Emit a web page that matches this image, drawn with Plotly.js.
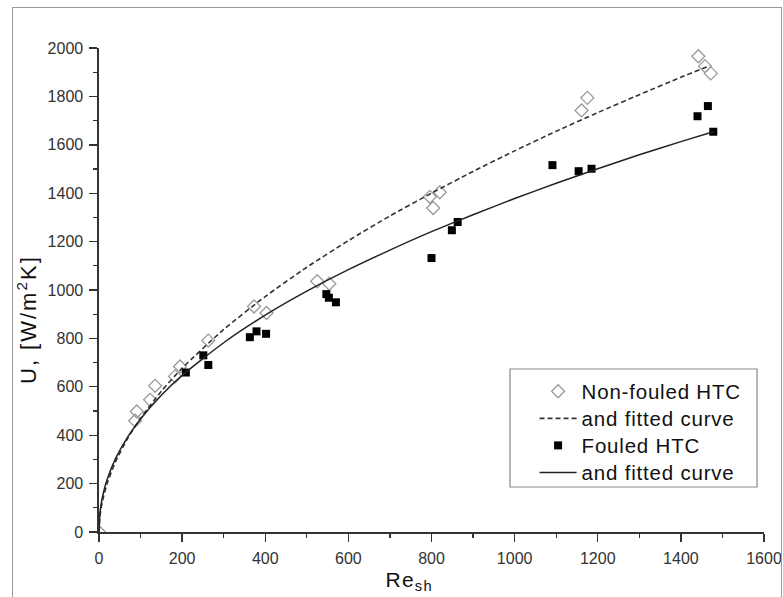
<!DOCTYPE html>
<html>
<head>
<meta charset="utf-8">
<script src="https://cdn.plot.ly/plotly-3.0.1.min.js"></script>
<style>
  html, body { margin: 0; padding: 0; background: #fff; }
  #wrap { position: relative; width: 783px; height: 597px; overflow: hidden; }
  #chart { position: absolute; left: 0; top: 0; width: 783px; height: 597px; }
  #frame { position: absolute; left: 12px; top: 7px; width: 768px; height: 620px;
           border: 1px solid #9a9a9a; pointer-events: none; }
  #chart .legend .scrollbox, #chart .legend { clip-path: none !important; }
  #chart .legendtext { font-size: 20.5px !important; letter-spacing: 0.8px; }
  #chart .annotation[data-index="0"] text { letter-spacing: 1.2px; }
  #chart .annotation[data-index="1"] text { letter-spacing: 2px; }
</style>
</head>
<body>
<div id="wrap">
  <div id="chart"></div>
  <div id="frame"></div>
</div>
<script>
// Non-fouled HTC measurements (open diamonds)
const nonFouledRe = [0, 87, 91, 123, 135, 183, 195, 263, 373, 403, 525, 554, 796, 804, 820, 1161, 1175, 1442, 1458, 1472];
const nonFouledU  = [0, 460, 498, 546, 604, 643, 684, 791, 932, 905, 1036, 1026, 1385, 1339, 1404, 1742, 1794, 1966, 1925, 1895];

// Fouled HTC measurements (filled squares)
const fouledRe = [209, 251, 263, 363, 379, 402, 547, 553, 570, 800, 849, 863, 1091, 1154, 1185, 1440, 1465, 1478];
const fouledU  = [659, 730, 690, 805, 829, 819, 983, 968, 949, 1132, 1247, 1281, 1516, 1491, 1501, 1718, 1760, 1654];

// Fitted curve for non-fouled (dashed)
const nfCurveRe = [0, 2, 5, 10, 20, 40, 70, 100, 150, 200, 300, 400, 500, 600, 700, 800, 900, 1000, 1100, 1200, 1300, 1400, 1470];
const nfCurveU  = [0, 60, 98, 140, 202, 291, 390, 470, 582, 677, 837, 973, 1094, 1204, 1306, 1400, 1490, 1575, 1656, 1733, 1807, 1879, 1927];

// Fitted curve for fouled (solid)
const fCurveRe = [0, 2, 5, 10, 20, 40, 70, 100, 150, 200, 300, 400, 500, 600, 700, 800, 900, 1000, 1100, 1200, 1300, 1400, 1480];
const fCurveU  = [0, 74, 114, 158, 219, 304, 395, 467, 565, 647, 782, 896, 995, 1084, 1165, 1241, 1311, 1378, 1441, 1501, 1559, 1613, 1655];

const legendNames = ["Non-fouled HTC", "and fitted curve", "Fouled HTC", "and fitted curve"];
const xTitle = "Re<sub>sh</sub>";
const yTitle = "U, [W/m<sup>2</sup>K]";

const FONT = "Liberation Sans, Arial, Helvetica, sans-serif";

const traces = [
  {
    x: nonFouledRe, y: nonFouledU, type: "scatter", mode: "markers",
    name: legendNames[0],
    marker: { symbol: "diamond-open", size: 10, color: "#9a9a9a", line: { width: 1.3, color: "#9a9a9a" } }
  },
  {
    x: nfCurveRe, y: nfCurveU, type: "scatter", mode: "lines",
    name: legendNames[1],
    line: { color: "#333", width: 1.6, dash: "5px,3px", shape: "spline", smoothing: 0.6 }
  },
  {
    x: fouledRe, y: fouledU, type: "scatter", mode: "markers",
    name: legendNames[2],
    marker: { symbol: "square", size: 8, color: "#000" }
  },
  {
    x: fCurveRe, y: fCurveU, type: "scatter", mode: "lines",
    name: legendNames[3],
    line: { color: "#222", width: 1.5, shape: "spline", smoothing: 0.6 }
  }
];

const axisCommon = {
  showgrid: false, zeroline: false, showline: true,
  linecolor: "#333", linewidth: 1.6,
  ticks: "outside", ticklen: 8, tickwidth: 1.4, tickcolor: "#333",
  ticklabelstandoff: 3,
  tickfont: { family: FONT, size: 16, color: "#333" },
  minor: { ticks: "outside", ticklen: 4, tickwidth: 1.2, tickcolor: "#333", dtick: 100, showgrid: false }
};

const layout = {
  width: 783, height: 597,
  margin: { l: 99, r: 19, t: 48, b: 65 },
  paper_bgcolor: "#fff", plot_bgcolor: "#fff",
  showlegend: true,
  xaxis: Object.assign({}, axisCommon, {
    range: [0, 1600], dtick: 200, tick0: 0, fixedrange: true
  }),
  yaxis: Object.assign({}, axisCommon, {
    range: [0, 2000], dtick: 200, tick0: 0, fixedrange: true
  }),
  legend: {
    x: 0.655, y: 0.329, xanchor: "left", yanchor: "top",
    bgcolor: "rgba(0,0,0,0)", borderwidth: 0,
    font: { family: FONT, size: 18.5, color: "#111" },
    itemwidth: 37, tracegroupgap: 0
  },
  shapes: [
    { type: "rect", xref: "paper", yref: "paper",
      x0: (510 - 99) / 665, x1: (757 - 99) / 665,
      y0: (532 - 487) / 484, y1: (532 - 369) / 484,
      line: { color: "#888", width: 1.2 }, fillcolor: "rgba(255,255,255,1)", layer: "below" }
  ],
  annotations: [
    { text: xTitle, xref: "paper", yref: "paper",
      x: (386 - 99) / 665, y: (532 - 566) / 484, xanchor: "left", yanchor: "top",
      showarrow: false, font: { family: FONT, size: 21, color: "#111" } },
    { text: yTitle, xref: "paper", yref: "paper", textangle: -90,
      x: (27 - 99) / 665, y: (532 - 320) / 484, xanchor: "center", yanchor: "middle",
      showarrow: false, font: { family: FONT, size: 22, color: "#111" } }
  ]
};

Plotly.newPlot("chart", traces, layout, { staticPlot: true, displayModeBar: false });
</script>
</body>
</html>
